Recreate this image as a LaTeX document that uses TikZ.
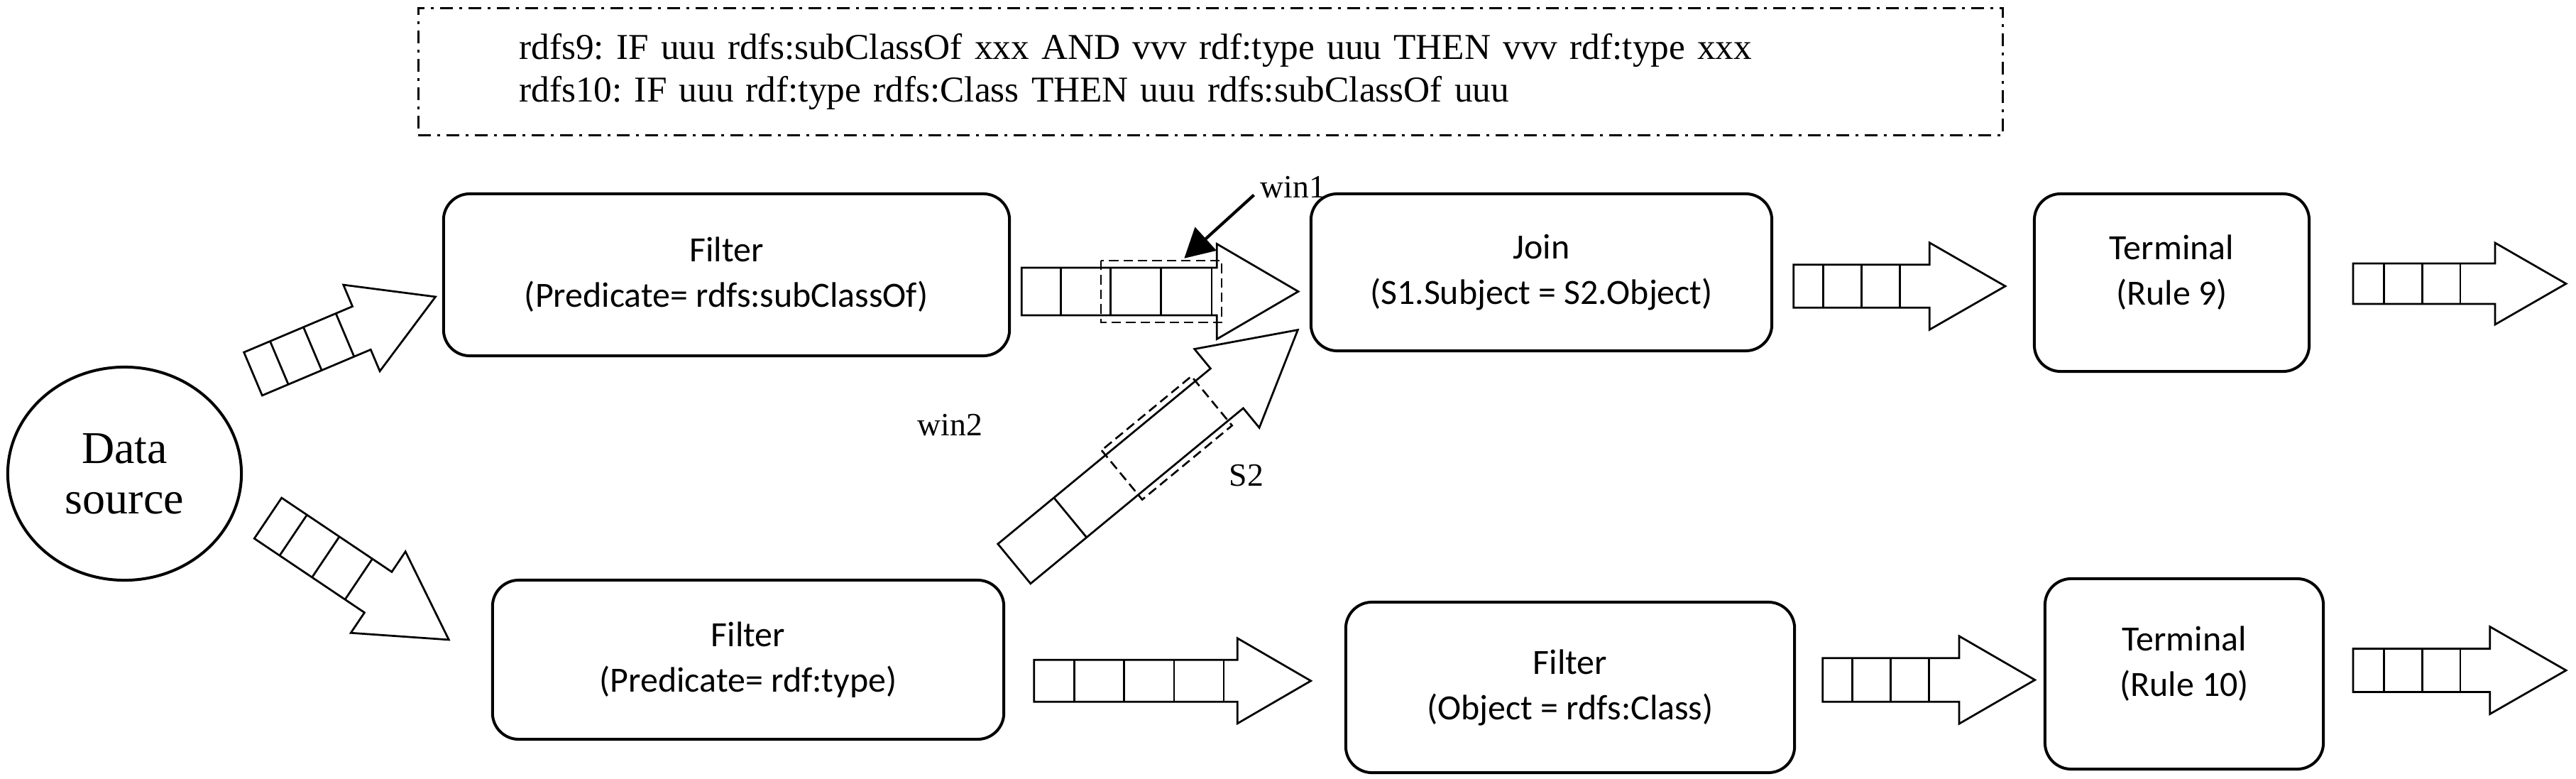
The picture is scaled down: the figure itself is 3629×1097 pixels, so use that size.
\documentclass[tikz,border=0pt]{standalone}
\usepackage{fontspec}
\setmainfont{Liberation Serif}
\setsansfont{Carlito}
\usetikzlibrary{shapes.geometric,arrows.meta}
\frenchspacing
% queue arrow: #1 tail middle, #2 angle, #3 body length, #4 body half width,
% #5 head length, #6 head half width, #7 divider positions
\newcommand{\QArrow}[7]{%
  \begin{scope}[shift={#1},rotate=#2]
    \draw[qline] (0,-#4) -- (#3,-#4) -- (#3,-#6) -- ({#3+#5},0) -- (#3,#6) -- (#3,#4) -- (0,#4) -- cycle;
    \foreach \dd in {#7}{\draw[qline] (\dd,-#4) -- (\dd,#4);}
  \end{scope}}
\begin{document}
\begin{tikzpicture}[x=0.01cm,y=-0.01cm,
  qline/.style={line width=0.78pt, line join=miter},
  procbox/.style={draw, line width=1.14pt, rounded corners=0.37cm, inner sep=0pt,
    align=center, font=\sffamily\fontsize{14.2}{18.2}\selectfont},
  termbox/.style={procbox, text depth=0.35cm},
  rulesbox/.style={draw, line width=0.85pt,
    dash pattern=on 5.1pt off 2.56pt on 1.14pt off 2.56pt,
    minimum width=22.31cm, minimum height=1.78cm, text width=19.47cm,
    inner xsep=1.42cm, inner ysep=0pt, align=left,
    font=\frenchspacing\fontsize{14.6}{17.07}\selectfont},
  srcnode/.style={draw, ellipse, line width=1.14pt, minimum width=3.29cm,
    minimum height=3.0cm, inner sep=0pt, align=center,
    font=\fontsize{18.2}{20.2}\selectfont},
  lbl/.style={font=\fontsize{13}{15}\selectfont, inner sep=0pt, anchor=base west},
  winbox/.style={line width=0.75pt, dash pattern=on 3.8pt off 2pt},
  pointer/.style={line width=1.2pt, -{Triangle[length=0.41cm,width=0.44cm]}}]

\useasboundingbox (0,0) rectangle (3629,1097);
\fill[white] (0,0) rectangle (3629,1097);

% rules box
\node[rulesbox] (rules) at (1705.5,101)
  {rdfs9: IF uuu rdfs:subClassOf xxx AND vvv rdf:type uuu THEN vvv rdf:type xxx\\
   rdfs10: IF uuu rdf:type rdfs:Class THEN uuu rdfs:subClassOf uuu};

% nodes
\node[srcnode] (ds) at (175.5,667) {Data\\source};
\node[procbox, minimum width=7.97cm, minimum height=2.28cm] (f1) at (1023.5,387)
  {Filter\\(Predicate= rdfs:subClassOf)};
\node[procbox, minimum width=6.49cm, minimum height=2.21cm] (join) at (2171.5,383.5)
  {Join\\(S1.Subject = S2.Object)};
\node[termbox, minimum width=3.87cm, minimum height=2.50cm] (t9) at (3059.5,398)
  {Terminal\\(Rule 9)};
\node[procbox, minimum width=7.20cm, minimum height=2.24cm] (f2) at (1054,929)
  {Filter\\(Predicate= rdf:type)};
\node[procbox, minimum width=6.32cm, minimum height=2.40cm] (f3) at (2212,968)
  {Filter\\(Object = rdfs:Class)};
\node[termbox, minimum width=3.92cm, minimum height=2.68cm] (t10) at (3077,949)
  {Terminal\\(Rule 10)};

% queue arrows
\QArrow{(356.5,526.5)}{22.9}{166}{33}{113}{66}{40,91,140.6}
\QArrow{(377.5,729.7)}{-33.9}{187}{34.5}{120}{69}{43,98,154}
\QArrow{(1439.3,410.5)}{0}{275}{33.4}{114.7}{67}{54.9,125,196.4,267.8}
\QArrow{(1428.8,793.9)}{39.5}{388.3}{36.2}{129.5}{71.8}{102.3}
\QArrow{(1456.7,958.8)}{0}{286.6}{29.5}{103.4}{60}{56.6,126.6,197.3,267.3}
\QArrow{(2526.7,403)}{0}{191.6}{30.3}{106.7}{61.2}{41.6,95.6,150}
\QArrow{(3315,399.5)}{0}{200}{28.5}{100}{57.5}{43.3,97.3,151}
\QArrow{(2567.7,957.5)}{0}{192.3}{30.8}{106.7}{61.7}{41.6,95.6,150}
\QArrow{(3315,944)}{0}{192.7}{30.6}{107.3}{61.5}{43.3,97.3,151}

% windows
\draw[winbox] (1551,367) rectangle (1721,454);
\begin{scope}[shift={(1428.8,793.9)},rotate=39.5]
  \draw[winbox] (196.6,-45) rectangle (360.6,45);
\end{scope}

% labels
\node[lbl] (win1) at (1775,279) {win1};
\node[lbl] (win2) at (1292,613.5) {win2};
\node[lbl] (s2) at (1731,684) {S2};

\coordinate (w1tail) at (1766.5,274.6);
\coordinate (w1tip) at (1668.3,363.8);
\draw[pointer] (w1tail) -- (w1tip);
\end{tikzpicture}
\end{document}
